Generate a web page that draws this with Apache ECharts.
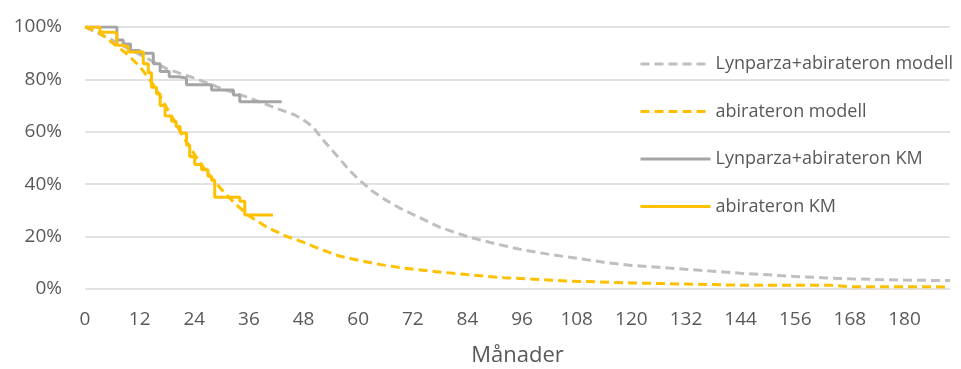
<!DOCTYPE html>
<html>
<head>
<meta charset="utf-8">
<script src="https://cdn.jsdelivr.net/npm/echarts@6/dist/echarts.min.js"></script>
<style>html,body{margin:0;padding:0;background:#fff;}#chart{width:961px;height:369px;}</style>
</head>
<body>
<div id="chart"></div>
<script>
// Series names
const seriesNames = ['Lynparza+abirateron modell', 'abirateron modell', 'Lynparza+abirateron KM', 'abirateron KM'];
const xAxisName = 'Månader';

// Lynparza+abirateron modell (months, survival %)
const lynModellMonths = [0, 6, 12, 18, 24, 30, 36, 42, 46, 48, 50, 52, 54, 56, 58, 60, 63, 66, 69, 72, 78, 84, 90, 96, 102, 108, 114, 120, 126, 132, 138, 144, 150, 156, 162, 168, 174, 180, 190];
const lynModellSurv = [100, 95, 89.5, 84, 80.5, 76.5, 73, 69, 66.5, 64.5, 62, 57.5, 53.5, 49.5, 45.5, 42, 37.5, 34, 31, 28.5, 23.5, 20, 17.3, 15, 13.2, 11.7, 10.2, 9, 8.3, 7.5, 6.8, 6, 5.4, 4.8, 4.3, 3.9, 3.6, 3.4, 3.2];

// abirateron modell
const abiModellMonths = [0, 3, 6, 9, 12, 15, 18, 20, 22, 24, 26, 28, 30, 33, 36, 40, 44, 48, 52, 56, 60, 65, 70, 76, 84, 92, 100, 106, 113, 120, 132, 142, 150, 164, 168, 190];
const abiModellSurv = [100, 98, 94, 90, 85, 78, 69, 63, 57, 51.5, 46.5, 42, 38, 32.5, 28, 23.5, 20.3, 17.8, 15, 12.5, 11, 9.3, 8, 6.8, 5.5, 4.3, 3.6, 3, 2.7, 2.3, 1.9, 1.5, 1.4, 1.4, 0.9, 0.8];

// Lynparza+abirateron KM (event times, survival %)
const lynKMMonths = [0, 7, 8.4, 10, 12, 15, 16.5, 18.5, 20.5, 22.3, 27.8, 32.6, 34, 43.2];
const lynKMSurv = [100, 95, 93.5, 91, 90, 86, 83, 81, 80.5, 78, 76, 74, 71.5, 71.5];

// abirateron KM
const abiKMMonths = [0, 3.3, 6.5, 7, 8.4, 9.5, 12.8, 13.9, 14.6, 15.7, 16.5, 17.6, 19, 20, 20.9, 22.3, 23, 24.1, 25.6, 27, 27.8, 28.5, 34, 35.1, 41.3];
const abiKMSurv = [100, 98, 97.5, 93, 92.5, 90.5, 86, 82.5, 77, 74.5, 70, 66, 64, 62, 59.5, 55, 50.5, 47.5, 45.5, 43, 41.5, 35, 33.5, 28.2, 28.2];

// Axis ticks
const xMin = 0, xMax = 190, xInterval = 12;
const yMin = 0, yMax = 100, yInterval = 20;

const zip = (a, b) => a.map((v, i) => [v, b[i]]);

const textColor = '#595959';
const font = 'Open Sans';
const chart = echarts.init(document.getElementById('chart'), null, {renderer: 'canvas'});
chart.setOption({
  animation: false,
  backgroundColor: '#ffffff',
  textStyle: {fontFamily: font, color: textColor},
  grid: {left: 85, right: 11, top: 27, bottom: 80, containLabel: false, outerBoundsMode: 'none'},
  legend: {
    orient: 'vertical',
    left: 634,
    top: 50,
    itemWidth: 70,
    itemHeight: 14,
    itemGap: 29.5,
    itemStyle: {opacity: 0},
    lineStyle: {width: 3},
    textStyle: {fontFamily: font, fontSize: 18, color: textColor},
    data: seriesNames
  },
  xAxis: {
    type: 'value',
    min: xMin, max: xMax, interval: xInterval,
    name: xAxisName,
    nameLocation: 'middle',
    nameGap: 56,
    nameTextStyle: {fontFamily: font, fontSize: 22, color: textColor},
    axisLine: {show: false},
    axisTick: {show: false},
    splitLine: {show: false},
    axisLabel: {fontFamily: font, fontSize: 19, color: textColor, margin: 21, showMaxLabel: false}
  },
  yAxis: {
    type: 'value',
    min: yMin, max: yMax, interval: yInterval,
    axisLine: {show: false},
    axisTick: {show: false},
    splitLine: {lineStyle: {color: '#d9d9d9', width: 1.5}},
    axisLabel: {fontFamily: font, fontSize: 19, color: textColor, margin: 23, formatter: '{value}%'}
  },
  series: [
    {name: seriesNames[0], type: 'line', showSymbol: false, symbol: 'none',
     data: zip(lynModellMonths, lynModellSurv),
     itemStyle: {color: '#BFBFBF'},
     lineStyle: {color: '#BFBFBF', width: 3, type: [9, 5]}},
    {name: seriesNames[1], type: 'line', showSymbol: false, symbol: 'none',
     data: zip(abiModellMonths, abiModellSurv),
     itemStyle: {color: '#FFC000'},
     lineStyle: {color: '#FFC000', width: 3, type: [9, 5]}},
    {name: seriesNames[2], type: 'line', showSymbol: false, symbol: 'none', step: 'end',
     data: zip(lynKMMonths, lynKMSurv),
     itemStyle: {color: '#A5A5A5'},
     lineStyle: {color: '#A5A5A5', width: 3}},
    {name: seriesNames[3], type: 'line', showSymbol: false, symbol: 'none', step: 'end',
     data: zip(abiKMMonths, abiKMSurv),
     itemStyle: {color: '#FFC000'},
     lineStyle: {color: '#FFC000', width: 3}}
  ]
});
</script>
</body>
</html>
